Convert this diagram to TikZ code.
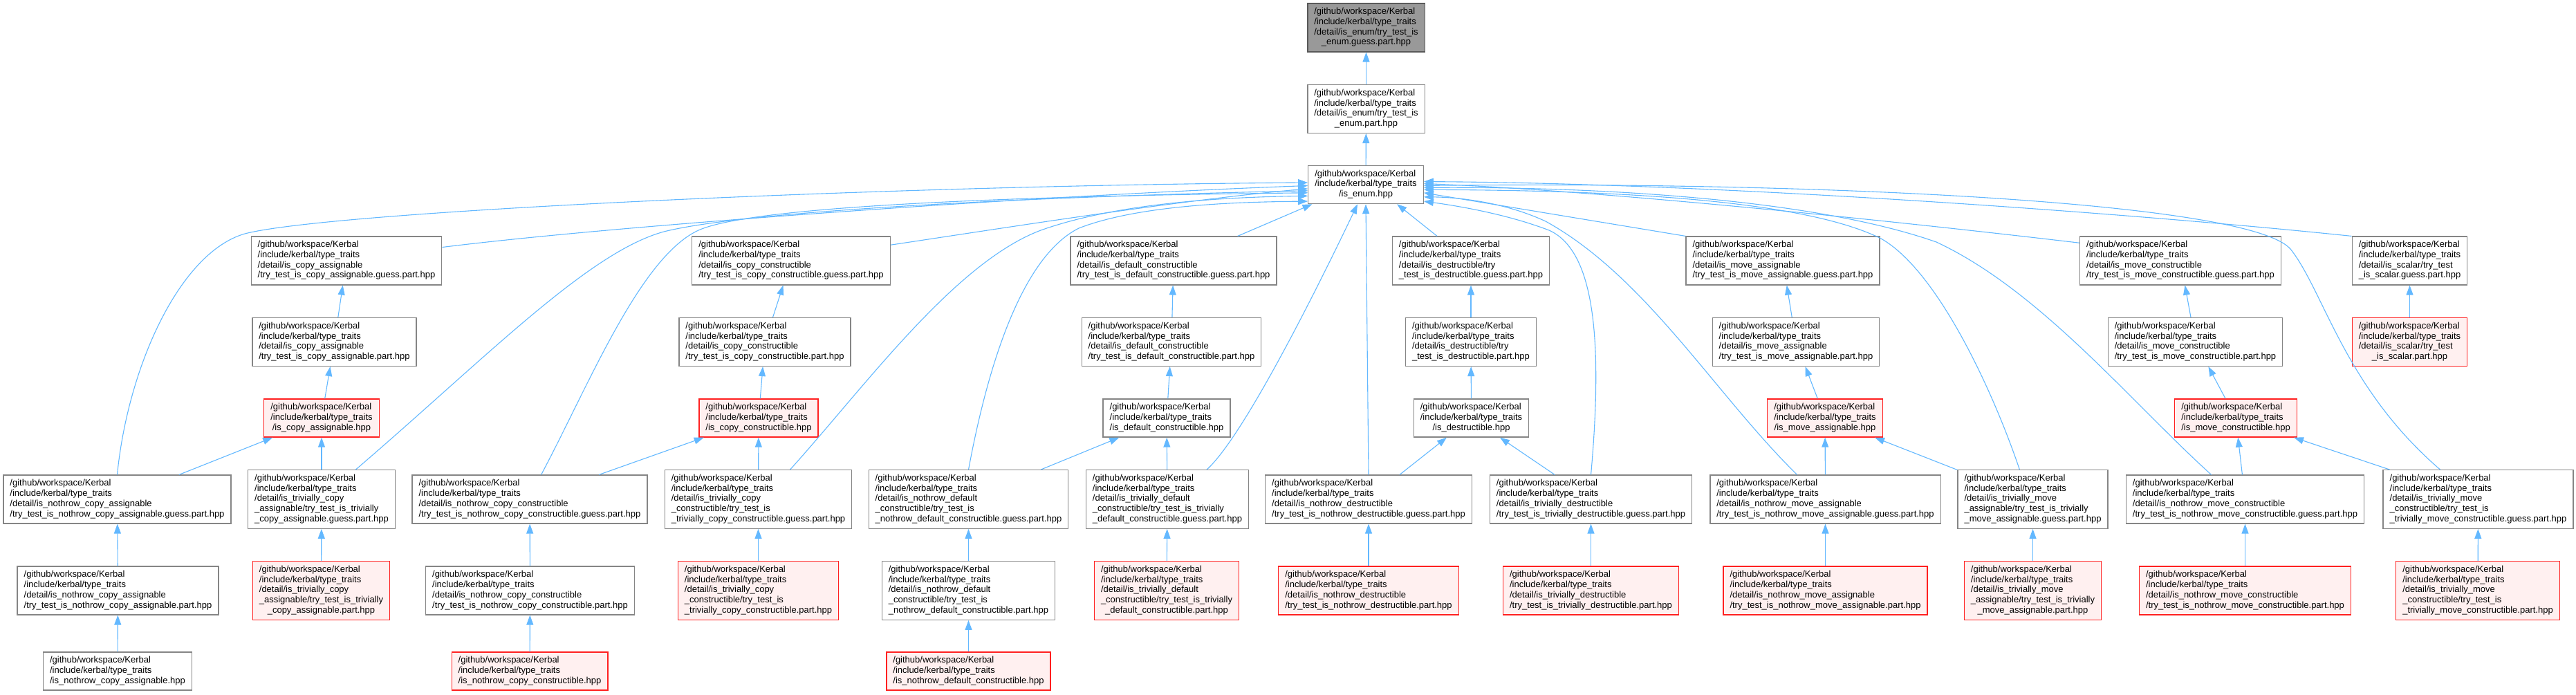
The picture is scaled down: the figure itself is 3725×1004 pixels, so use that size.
\documentclass[tikz,border=0pt]{standalone}
\usepackage{fontspec}
\setmainfont{Liberation Sans}
\usepackage{xcolor}
\usepackage{tikz}
\usetikzlibrary{arrows.meta}

\definecolor{depblue}{HTML}{63B8FF}
\definecolor{boxgray}{HTML}{858585}
\definecolor{topgray}{HTML}{999999}
\definecolor{redfill}{HTML}{FFF0F0}
\definecolor{redline}{HTML}{FF2020}

\newcommand{\kroot}{/github/workspace/Kerbal\\/include/kerbal/type\_traits}
\newcommand{\kfile}[2]{\begin{tabular}{@{}l@{}}#1\\\multicolumn{1}{@{}c@{}}{#2}\end{tabular}}

\begin{document}
\begin{tikzpicture}[x=1pt, y=-1pt,
    file/.style={draw=boxgray, line width=1.3pt, fill=white, inner xsep=9.5pt, inner ysep=5.5pt, font=\fontsize{13}{14.7}\selectfont},
    redfile/.style={file, draw=redline, fill=redfill},
    topfile/.style={file, draw=gray!70!black, fill=topgray},
    dep/.style={depblue, line width=1.1pt, -{Triangle[length=14pt, width=10pt]}}]
    \useasboundingbox (0,0) rectangle (3725,1004);

    % is_enum chain
    \node[topfile] (enumguess) at (1975.5,40) {\kfile{\kroot\\/detail/is\_enum/try\_test\_is}{\_enum.guess.part.hpp}};
    \node[file] (enumpart) at (1975.5,157.5) {\kfile{\kroot\\/detail/is\_enum/try\_test\_is}{\_enum.part.hpp}};
    \node[file] (isenum) at (1975,267) {\kfile{/github/workspace/Kerbal\\/include/kerbal/type\_traits}{/is\_enum.hpp}};

    % guess headers
    \node[file] (caguess) at (501,377) {\kfile{\kroot\\/detail/is\_copy\_assignable}{/try\_test\_is\_copy\_assignable.guess.part.hpp}};
    \node[file] (ccguess) at (1144,377) {\kfile{\kroot\\/detail/is\_copy\_constructible}{/try\_test\_is\_copy\_constructible.guess.part.hpp}};
    \node[file] (dcguess) at (1697,377) {\kfile{\kroot\\/detail/is\_default\_constructible}{/try\_test\_is\_default\_constructible.guess.part.hpp}};
    \node[file] (dguess) at (2127,377) {\kfile{\kroot\\/detail/is\_destructible/try}{\_test\_is\_destructible.guess.part.hpp}};
    \node[file] (maguess) at (2578,377) {\kfile{\kroot\\/detail/is\_move\_assignable}{/try\_test\_is\_move\_assignable.guess.part.hpp}};
    \node[file] (mcguess) at (3153,377) {\kfile{\kroot\\/detail/is\_move\_constructible}{/try\_test\_is\_move\_constructible.guess.part.hpp}};
    \node[file] (sguess) at (3484.5,377) {\kfile{\kroot\\/detail/is\_scalar/try\_test}{\_is\_scalar.guess.part.hpp}};

    % part headers
    \node[file] (capart) at (483.5,494.5) {\kfile{\kroot\\/detail/is\_copy\_assignable}{/try\_test\_is\_copy\_assignable.part.hpp}};
    \node[file] (ccpart) at (1106,494.5) {\kfile{\kroot\\/detail/is\_copy\_constructible}{/try\_test\_is\_copy\_constructible.part.hpp}};
    \node[file] (dcpart) at (1694,494.5) {\kfile{\kroot\\/detail/is\_default\_constructible}{/try\_test\_is\_default\_constructible.part.hpp}};
    \node[file] (dpart) at (2127,494.5) {\kfile{\kroot\\/detail/is\_destructible/try}{\_test\_is\_destructible.part.hpp}};
    \node[file] (mapart) at (2597,494.5) {\kfile{\kroot\\/detail/is\_move\_assignable}{/try\_test\_is\_move\_assignable.part.hpp}};
    \node[file] (mcpart) at (3174.5,494.5) {\kfile{\kroot\\/detail/is\_move\_constructible}{/try\_test\_is\_move\_constructible.part.hpp}};
    \node[redfile] (spart) at (3484.5,494.5) {\kfile{\kroot\\/detail/is\_scalar/try\_test}{\_is\_scalar.part.hpp}};

    % public headers
    \node[redfile] (ca) at (465,604.5) {\kfile{\kroot}{/is\_copy\_assignable.hpp}};
    \node[redfile] (cc) at (1097,604.5) {\kfile{\kroot}{/is\_copy\_constructible.hpp}};
    \node[file] (dc) at (1687,604.5) {\kfile{\kroot}{/is\_default\_constructible.hpp}};
    \node[file] (dst) at (2127.5,604.5) {\kfile{\kroot}{/is\_destructible.hpp}};
    \node[redfile] (ma) at (2639,604.5) {\kfile{\kroot}{/is\_move\_assignable.hpp}};
    \node[redfile] (mc) at (3233,604.5) {\kfile{\kroot}{/is\_move\_constructible.hpp}};

    % nothrow / trivially guess headers
    \node[file] (ncaguess) at (169.5,722) {\kfile{\kroot\\/detail/is\_nothrow\_copy\_assignable}{/try\_test\_is\_nothrow\_copy\_assignable.guess.part.hpp}};
    \node[file] (tcaguess) at (465,722) {\kfile{\kroot\\/detail/is\_trivially\_copy\\\_assignable/try\_test\_is\_trivially}{\_copy\_assignable.guess.part.hpp}};
    \node[file] (nccguess) at (766,722) {\kfile{\kroot\\/detail/is\_nothrow\_copy\_constructible}{/try\_test\_is\_nothrow\_copy\_constructible.guess.part.hpp}};
    \node[file] (tccguess) at (1096.5,722) {\kfile{\kroot\\/detail/is\_trivially\_copy\\\_constructible/try\_test\_is}{\_trivially\_copy\_constructible.guess.part.hpp}};
    \node[file] (ndcguess) at (1400.5,722) {\kfile{\kroot\\/detail/is\_nothrow\_default\\\_constructible/try\_test\_is}{\_nothrow\_default\_constructible.guess.part.hpp}};
    \node[file] (tdcguess) at (1688,722) {\kfile{\kroot\\/detail/is\_trivially\_default\\\_constructible/try\_test\_is\_trivially}{\_default\_constructible.guess.part.hpp}};
    \node[file] (ndguess) at (1979,722) {\kfile{\kroot\\/detail/is\_nothrow\_destructible}{/try\_test\_is\_nothrow\_destructible.guess.part.hpp}};
    \node[file] (tdguess) at (2300.5,722) {\kfile{\kroot\\/detail/is\_trivially\_destructible}{/try\_test\_is\_trivially\_destructible.guess.part.hpp}};
    \node[file] (nmaguess) at (2639.5,722) {\kfile{\kroot\\/detail/is\_nothrow\_move\_assignable}{/try\_test\_is\_nothrow\_move\_assignable.guess.part.hpp}};
    \node[file] (tmaguess) at (2939.5,722) {\kfile{\kroot\\/detail/is\_trivially\_move\\\_assignable/try\_test\_is\_trivially}{\_move\_assignable.guess.part.hpp}};
    \node[file] (nmcguess) at (3246.5,722) {\kfile{\kroot\\/detail/is\_nothrow\_move\_constructible}{/try\_test\_is\_nothrow\_move\_constructible.guess.part.hpp}};
    \node[file] (tmcguess) at (3583.5,722) {\kfile{\kroot\\/detail/is\_trivially\_move\\\_constructible/try\_test\_is}{\_trivially\_move\_constructible.guess.part.hpp}};

    % nothrow / trivially part headers
    \node[file] (ncapart) at (170.5,854) {\kfile{\kroot\\/detail/is\_nothrow\_copy\_assignable}{/try\_test\_is\_nothrow\_copy\_assignable.part.hpp}};
    \node[redfile] (tcapart) at (464.5,854) {\kfile{\kroot\\/detail/is\_trivially\_copy\\\_assignable/try\_test\_is\_trivially}{\_copy\_assignable.part.hpp}};
    \node[file] (nccpart) at (766.5,854) {\kfile{\kroot\\/detail/is\_nothrow\_copy\_constructible}{/try\_test\_is\_nothrow\_copy\_constructible.part.hpp}};
    \node[redfile] (tccpart) at (1096.5,854) {\kfile{\kroot\\/detail/is\_trivially\_copy\\\_constructible/try\_test\_is}{\_trivially\_copy\_constructible.part.hpp}};
    \node[file] (ndcpart) at (1400.5,854) {\kfile{\kroot\\/detail/is\_nothrow\_default\\\_constructible/try\_test\_is}{\_nothrow\_default\_constructible.part.hpp}};
    \node[redfile] (tdcpart) at (1687,854) {\kfile{\kroot\\/detail/is\_trivially\_default\\\_constructible/try\_test\_is\_trivially}{\_default\_constructible.part.hpp}};
    \node[redfile] (ndpart) at (1979,854) {\kfile{\kroot\\/detail/is\_nothrow\_destructible}{/try\_test\_is\_nothrow\_destructible.part.hpp}};
    \node[redfile] (tdpart) at (2300.5,854) {\kfile{\kroot\\/detail/is\_trivially\_destructible}{/try\_test\_is\_trivially\_destructible.part.hpp}};
    \node[redfile] (nmapart) at (2639.5,854) {\kfile{\kroot\\/detail/is\_nothrow\_move\_assignable}{/try\_test\_is\_nothrow\_move\_assignable.part.hpp}};
    \node[redfile] (tmapart) at (2939.5,854) {\kfile{\kroot\\/detail/is\_trivially\_move\\\_assignable/try\_test\_is\_trivially}{\_move\_assignable.part.hpp}};
    \node[redfile] (nmcpart) at (3246.5,854) {\kfile{\kroot\\/detail/is\_nothrow\_move\_constructible}{/try\_test\_is\_nothrow\_move\_constructible.part.hpp}};
    \node[redfile] (tmcpart) at (3583,854) {\kfile{\kroot\\/detail/is\_trivially\_move\\\_constructible/try\_test\_is}{\_trivially\_move\_constructible.part.hpp}};

    % bottom row
    \node[file] (nca) at (170,970.5) {\kfile{\kroot}{/is\_nothrow\_copy\_assignable.hpp}};
    \node[redfile] (ncc) at (766,970.5) {\kfile{\kroot}{/is\_nothrow\_copy\_constructible.hpp}};
    \node[redfile] (ndc) at (1400.5,970.5) {\kfile{\kroot}{/is\_nothrow\_default\_constructible.hpp}};

    % chain to the top
    \draw[dep] (enumpart) -- (enumguess);
    \draw[dep] (isenum) -- (enumpart);

    % guess headers into is_enum
    \draw[dep] (caguess.8) .. controls (900,325) and (1500,283) .. (isenum.181);
    \draw[dep] (ccguess.9) .. controls (1450,330) and (1700,290) .. (isenum.184);
    \draw[dep] (dcguess.21) -- (isenum.200);
    \draw[dep] (dguess.144) -- (isenum.328);
    \draw[dep] (maguess.north west) -- (isenum.352);
    \draw[dep] (mcguess.170) .. controls (2700,315) and (2300,275) .. (isenum.1);
    \draw[dep] (sguess.north west) .. controls (3100,310) and (2500,265) .. (isenum.3);

    % nothrow / trivially guess headers into is_enum
    \draw[dep] (ncaguess.north) .. controls (185,530) and (260,365) .. (354,338) .. controls (480,305) and (1300,268) .. (isenum.178);
    \draw[dep] (tcaguess.41) .. controls (700,520) and (850,365) .. (960,335) .. controls (1100,300) and (1600,282) .. (isenum.186);
    \draw[dep] (nccguess.65) .. controls (850,560) and (925,372) .. (1010,333) .. controls (1100,292) and (1600,282) .. (isenum.188);
    \draw[dep] (tccguess.43) .. controls (1250,560) and (1380,380) .. (1505,333) .. controls (1620,292) and (1780,285) .. (isenum.191);
    \draw[dep] (ndcguess.north) .. controls (1430,520) and (1480,370) .. (1560,330) .. controls (1650,295) and (1800,292) .. (isenum.196);
    \draw[dep] (tdcguess.37) .. controls (1800,630) and (1913,400) .. (isenum.247);
    \draw[dep] (ndguess.north) -- (isenum.south);
    \draw[dep] (tdguess.north) .. controls (2320,470) and (2300,360) .. (2240,333) .. controls (2180,310) and (2110,298) .. (isenum.344);
    \draw[dep] (nmaguess.139) .. controls (2480,570) and (2380,400) .. (2235,320) .. controls (2170,290) and (2100,285) .. (isenum.348);
    \draw[dep] (tmaguess.114) .. controls (2880,560) and (2800,390) .. (2720,345) .. controls (2600,285) and (2300,275) .. (isenum.355);
    \draw[dep] (nmcguess.144) .. controls (3080,580) and (2950,420) .. (2800,350) .. controls (2600,280) and (2250,270) .. (isenum.357);
    \draw[dep] (tmcguess.142) .. controls (3390,560) and (3360,420) .. (3312,360) .. controls (3250,290) and (2600,262) .. (isenum.359);

    % part headers into guess headers
    \draw[dep] (capart) -- (caguess);
    \draw[dep] (ccpart) -- (ccguess);
    \draw[dep] (dcpart) -- (dcguess);
    \draw[dep] (dpart) -- (dguess);
    \draw[dep] (mapart) -- (maguess);
    \draw[dep] (mcpart) -- (mcguess);
    \draw[dep] (spart) -- (sguess);

    % public headers into part headers
    \draw[dep] (ca) -- (capart);
    \draw[dep] (cc) -- (ccpart);
    \draw[dep] (dc) -- (dcpart);
    \draw[dep] (dst) -- (dpart);
    \draw[dep] (ma) -- (mapart);
    \draw[dep] (mc) -- (mcpart);

    % nothrow / trivially guess headers into public headers
    \draw[dep] (ncaguess) -- (ca);
    \draw[dep] (tcaguess) -- (ca);
    \draw[dep] (nccguess) -- (cc);
    \draw[dep] (tccguess) -- (cc);
    \draw[dep] (ndcguess) -- (dc);
    \draw[dep] (tdcguess) -- (dc);
    \draw[dep] (ndguess) -- (dst);
    \draw[dep] (tdguess) -- (dst);
    \draw[dep] (nmaguess) -- (ma);
    \draw[dep] (tmaguess) -- (ma);
    \draw[dep] (nmcguess) -- (mc);
    \draw[dep] (tmcguess) -- (mc);

    % part headers into guess headers
    \draw[dep] (ncapart) -- (ncaguess);
    \draw[dep] (tcapart) -- (tcaguess);
    \draw[dep] (nccpart) -- (nccguess);
    \draw[dep] (tccpart) -- (tccguess);
    \draw[dep] (ndcpart) -- (ndcguess);
    \draw[dep] (tdcpart) -- (tdcguess);
    \draw[dep] (ndpart) -- (ndguess);
    \draw[dep] (tdpart) -- (tdguess);
    \draw[dep] (nmapart) -- (nmaguess);
    \draw[dep] (tmapart) -- (tmaguess);
    \draw[dep] (nmcpart) -- (nmcguess);
    \draw[dep] (tmcpart) -- (tmcguess);

    % bottom row
    \draw[dep] (nca) -- (ncapart);
    \draw[dep] (ncc) -- (nccpart);
    \draw[dep] (ndc) -- (ndcpart);
\end{tikzpicture}
\end{document}
